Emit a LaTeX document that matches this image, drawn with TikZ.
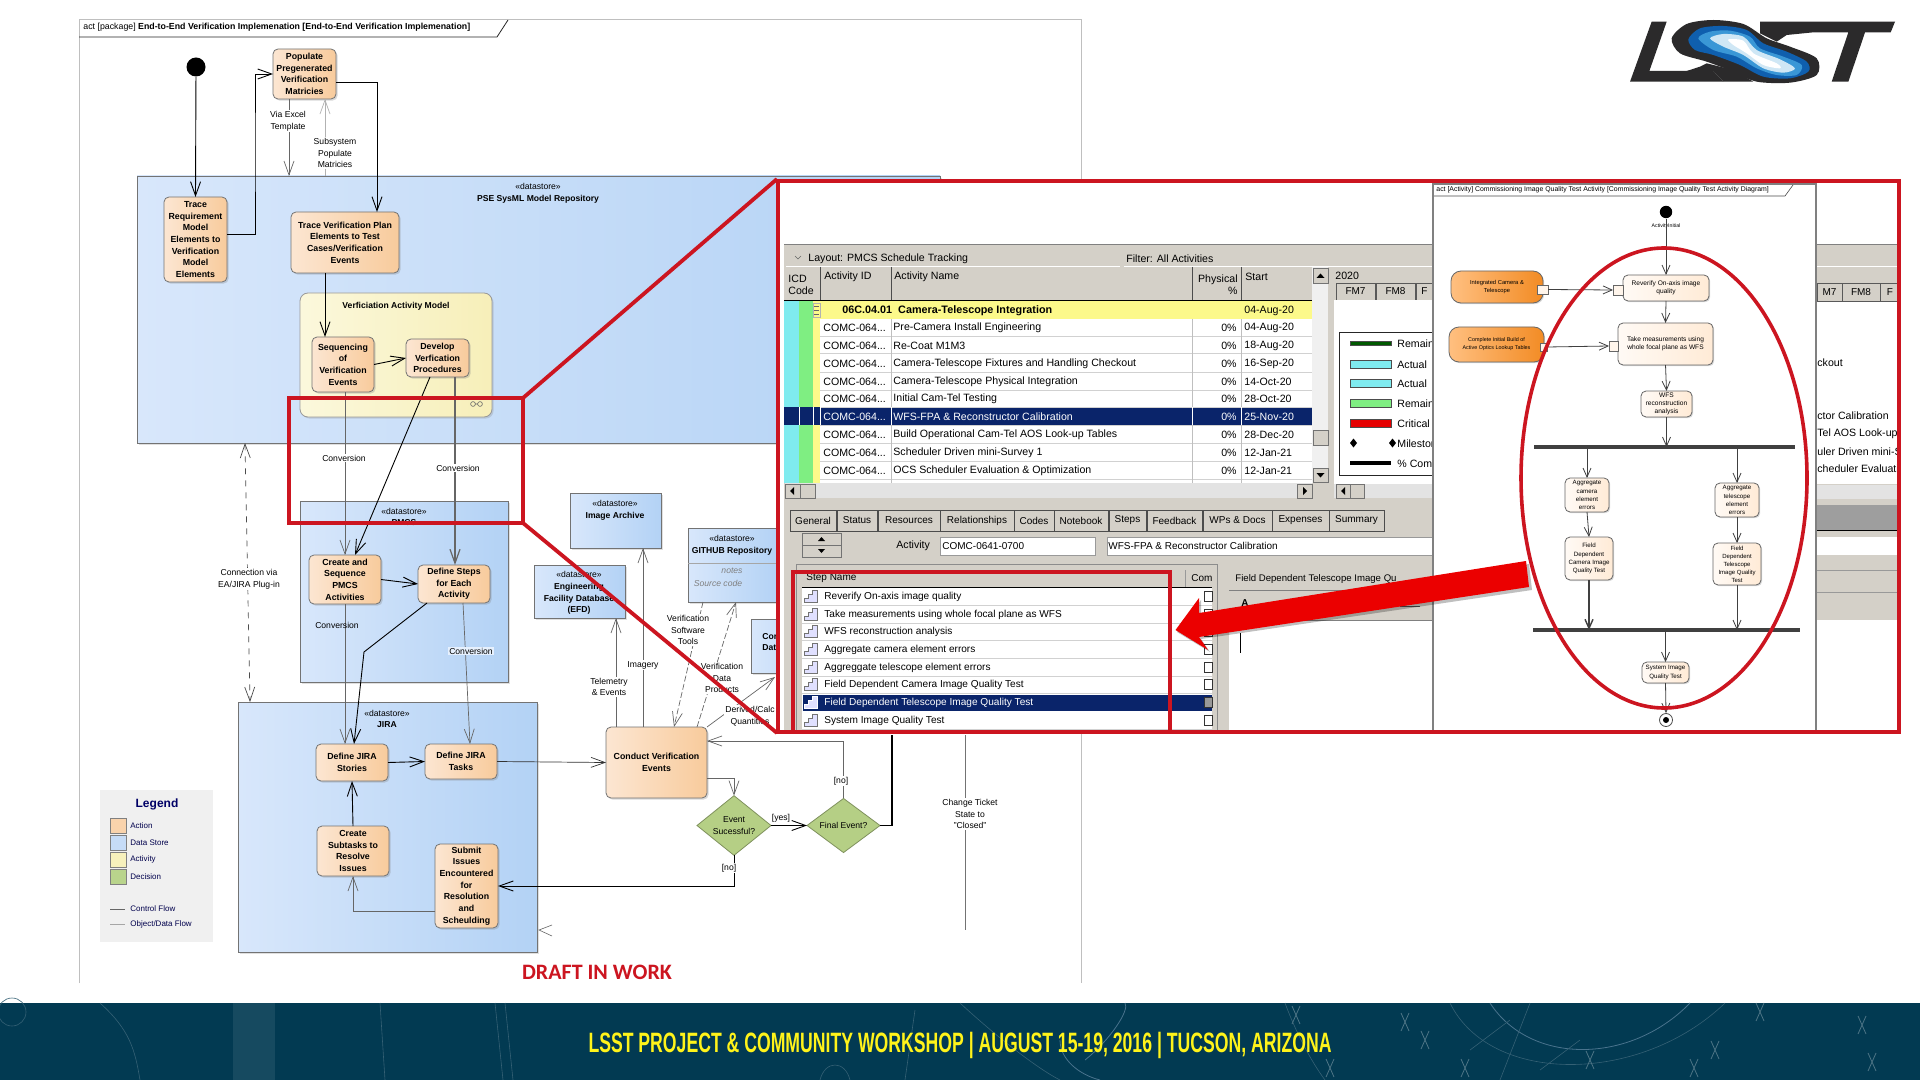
\documentclass[tikz,border=0pt]{standalone}
\usepackage{fontspec}
\usepackage{graphicx}
\setmainfont{Liberation Sans}
\newfontfamily\carl{Carlito}
\usetikzlibrary{arrows.meta,calc,shadows,shapes.geometric}
\definecolor{redl}{HTML}{CC1520}
\definecolor{p6}{HTML}{D4D0C8}
\definecolor{navy}{HTML}{0A246A}
\definecolor{band}{HTML}{023A52}
\definecolor{cyanb}{HTML}{7FEBEF}
\definecolor{greenb}{HTML}{7FEE82}
\definecolor{yelb}{HTML}{FCF98A}
\definecolor{storeL}{HTML}{D8E7FB}
\definecolor{storeR}{HTML}{B3D2F5}
\definecolor{actL}{HTML}{FCE6D2}
\definecolor{actR}{HTML}{F8CB9C}
\definecolor{yelL}{HTML}{FBF8DC}
\definecolor{yelR}{HTML}{F7EFB9}
\definecolor{decC}{HTML}{B5CF85}
\definecolor{lblB}{HTML}{CBDFF8}
\definecolor{lblC}{HTML}{E6F0FD}
\definecolor{legA}{HTML}{F9D3AC}
\definecolor{legB}{HTML}{C6DCF7}
\definecolor{legC}{HTML}{F7F1BC}
\definecolor{legD}{HTML}{B9D48C}
\definecolor{logoA}{HTML}{0F5FAE}
\definecolor{logoB}{HTML}{3A97D6}
\definecolor{logoC}{HTML}{CFE7F5}
\definecolor{lg}{HTML}{2B2A2B}
\newcommand\fs[2]{\fontsize{#1pt}{#2pt}\selectfont}
\newcommand\bx[7][]{\node[#1,minimum width={(#5-#3)*0.5pt},minimum height={(#6-#4)*0.5pt}] (#2) at ({(#3+#5)/2},{(#4+#6)/2}) {#7};}
\newcommand\rr[5][]{\fill[#1] (#2,#3) rectangle (#4,#5);}
\newcommand\lbl[5][]{\node[lab,#1] (#2) at (#3,#4) {#5};}
\newcommand\txw[5][]{\node[anchor=west,inner sep=0pt,#1] (#2) at (#3,#4) {#5};}
\tikzset{
 >={Straight Barb[length=7pt,width=5pt]},
 basebox/.style={inner sep=0pt,outer sep=0pt,align=center},
 action/.style={basebox,draw=black!55,rounded corners=2.5pt,left color=actL,right color=actR,drop shadow={shadow xshift=.8pt,shadow yshift=-.8pt,opacity=.3},font=\fs{4.4}{5.85}\bfseries},
 store/.style={basebox,draw=black!55,left color=storeL,right color=storeR,drop shadow={shadow xshift=.8pt,shadow yshift=-.8pt,opacity=.25},font=\fs{4.3}{5.85}},
 activ/.style={basebox,draw=black!40,rounded corners=4pt,left color=yelL,right color=yelR,drop shadow={shadow xshift=.8pt,shadow yshift=-.8pt,opacity=.25}},
 decis/.style={diamond,inner sep=0pt,outer sep=0pt,draw=decC!70!black,fill=decC,align=center,font=\fs{4.3}{5.8}},
 lab/.style={inner sep=.6pt,align=center,font=\fs{4.3}{5.85},text=black},
 flow/.style={->,draw=black,line width=.45pt},
 data/.style={->,draw=black!60,line width=.35pt},
 dataline/.style={data,dashed,dash pattern=on 3pt off 1.2pt},
 mini/.style={basebox,draw=black!60,rounded corners=2.5pt,left color=orange!4!white,right color=orange!16!white,drop shadow={shadow xshift=.6pt,shadow yshift=-.6pt,opacity=.3},font=\fs{3.3}{4.1}},
 miniact/.style={basebox,draw=black!60,rounded corners=5pt,left color=orange!50!white,right color=orange!85!white!95!black,drop shadow={shadow xshift=.6pt,shadow yshift=-.6pt,opacity=.3},font=\fs{2.9}{4.1}},
 pin/.style={basebox,draw=black!60,fill=orange!8!white},
 minif/.style={->,>={Straight Barb[length=4.5pt,width=4pt]},draw=black!75,line width=.4pt},
 forkbar/.style={line width=1.6pt,draw=black!75},
 redframe/.style={draw=redl,line width=1.9pt},
 p6t/.style={font=\fs{5.3}{6},yshift=-.4pt},
 tabcell/.style={basebox,draw=black!70,fill=p6,font=\fs{5}{6}},
 bandline/.style={draw=white!20!band,line width=.3pt},
 bandlineb/.style={draw=cyan!30!band,line width=.4pt},
 bandstar/.style={draw=white!30!band,line width=.4pt},
}
\begin{document}
\begin{tikzpicture}[x=0.5pt,y=-0.5pt]
\useasboundingbox (0,0) rectangle (1920,1080);
\fill[white] (0,0) rectangle (1920,1080);
% ---------- footer band
\fill[band] (0,1003) rectangle (1920,1080);
\fill[white!8!band] (233,1003) rectangle (275,1080);
\draw[bandline] (12,1012) circle (14);
\draw[bandline] (100,1003) .. controls (130,1030) and (135,1050) .. (140,1080);
\draw[bandline] (380,1003) -- (385,1080);
\draw[bandline] (495,1003) -- (503,1080);
\draw[bandline] (505,1003) -- (513,1080);
\draw[bandline] (820,1080) .. controls (825,1060) and (845,1060) .. (850,1080);
\draw[bandline] (915,1010) -- (905,1080);
\draw[bandlineb] (1085,1060) .. controls (1110,1040) and (1130,1010) .. (1125,1003);
\draw[bandlineb] (1060,1040) .. controls (1060,1060) and (1080,1075) .. (1100,1080);
\draw[bandline] (960,1003) .. controls (1000,1040) and (1040,1070) .. (1060,1080);
\draw[bandline] (1285,1003) .. controls (1295,1030) and (1310,1060) .. (1325,1080);
\draw[bandline] (1450,1003) .. controls (1490,1085) and (1640,1085) .. (1725,1003);
\draw[bandlineb] (1490,1003) .. controls (1530,1065) and (1630,1065) .. (1690,1003);
\draw[bandline] (1530,1003) -- (1500,1080);
\draw[bandline] (1470,1050) -- (1510,1020);
\draw[bandline] (1540,1070) -- (1580,1040);
\foreach \px/\py in {1296/1015,1405/1022,1425/1040,1465/1068,1590/1060,1694/1068,1715/1050,1760/1012,1862/1025,1872/1062,1330/1068}{
 \draw[bandstar] (\px-4,\py-9) -- (\px+4,\py+9) (\px+4,\py-9) -- (\px-4,\py+9);
}
\node[text=yellow!90!white,inner sep=0pt,font=\fs{14}{16}\bfseries] (foot) at (960,1045) {\scalebox{.63}[1]{LSST PROJECT \& COMMUNITY WORKSHOP | AUGUST 15-19, 2016 | TUCSON, ARIZONA}};
% ---------- logo
\begin{scope}[shift={(1600,0)},x=0.16667pt,y=-0.16667pt]
 \fill[lg] (155,65) -- (200,65) -- (148,213) -- (340,213) -- (370,245) -- (90,245) -- cycle;
 \fill[lg] (480,65) -- (885,65) -- (872,97) -- (795,97) -- (745,245) -- (695,245) -- (745,97) -- (640,97) -- (560,105) -- (530,125) -- (480,100) -- cycle;
 \fill[lg] (260,213) -- (340,213) -- (370,245) -- (460,245) -- (400,210) -- (320,190) -- (300,200) -- cycle;
 \fill[lg] plot[smooth cycle] coordinates {(215,115) (260,72) (340,60) (430,72) (500,115) (570,140) (650,175) (650,225) (570,248) (470,245) (400,215) (320,185) (240,160)};
 \fill[logoA] plot[smooth cycle] coordinates {(265,118) (300,85) (370,78) (440,90) (490,130) (560,155) (620,185) (625,215) (570,235) (490,230) (420,195) (340,165) (285,150)};
 \fill[logoB] plot[smooth cycle] coordinates {(295,115) (330,95) (390,92) (450,110) (480,145) (550,170) (605,195) (590,225) (530,225) (470,205) (410,170) (340,150)};
 \fill[logoC] plot[smooth cycle] coordinates {(330,115) (370,102) (430,110) (470,150) (540,178) (585,205) (550,218) (490,205) (430,165) (370,140)};
 \fill[white] plot[smooth cycle] coordinates {(385,118) (430,122) (460,160) (530,190) (540,205) (490,195) (440,160) (400,135)};
\end{scope}
% ---------- left diagram frame
\draw[black!25,line width=.4pt] (79,983) -- (79,19) -- (1081,19) -- (1081,983);
\draw[black!85,line width=.4pt] (79,37) -- (497,37) -- (508,20);
\txw[font=\fs{4.4}{5}]{frameT}{83}{27}{act [package] \textbf{End-to-End Verification Implemenation [End-to-End Verification Implemenation]}}
% ---------- containers
\bx[store]{repo}{137}{176}{940}{443}{}
\bx[store]{pmcs}{300}{501}{508}{682}{}
\bx[store]{jira}{238}{702}{537}{952}{}
\bx[store]{ia}{570}{493}{661}{548}{}
\bx[store]{efd}{534}{565}{625}{618}{}
\bx[store]{gh}{688}{528}{778}{602}{}
\bx[store]{cor}{751}{619}{830}{673}{}
\draw[black!35,line width=.3pt] (688,563) -- (778,563);
\lbl{repoT}{538}{193}{«datastore»\\\textbf{PSE SysML Model Repository}}
\lbl{pmcsT}{404}{517}{«datastore»\\\textbf{PMCS}}
\lbl{jiraT}{387}{719}{«datastore»\\\textbf{JIRA}}
\lbl{iaT}{615}{510}{«datastore»\\\textbf{Image Archive}}
\lbl{efdT}{579}{593}{«datastore»\\\textbf{Engineering}\\\textbf{Facility Database}\\\textbf{(EFD)}}
\lbl{ghT}{732}{545}{«datastore»\\\textbf{GITHUB Repository}}
\lbl[text=black!50]{ghN}{732}{571}{\textit{notes}}
\lbl[text=black!50]{ghS}{718}{583}{\textit{Source code}}
\txw[font=\fs{4.3}{5.85}\bfseries,align=left]{corT}{762}{642}{Cor\\Dat}
\bx[activ]{vam}{300}{293}{492}{417}{}
\lbl[font=\fs{4.3}{5.85}\bfseries]{vamT}{396}{306}{Verficiation Activity Model}
\draw[black!60,line width=.3pt] (473,404) circle (2.4) (480,404) circle (2.4) (475.4,404) -- (477.6,404);
% ---------- action nodes
\node[circle,fill=black,inner sep=0pt,minimum size=9.5pt] (init) at (196,67) {};
\bx[action]{pop}{273}{49}{336}{99}{Populate\\Pregenerated\\Verification\\Matricies}
\bx[action]{tr}{164}{197}{227}{282}{Trace\\Requirement\\Model\\Elements to\\Verification\\Model\\Elements}
\bx[action]{tv}{291}{212}{399}{273}{Trace Verification Plan\\Elements to Test\\Cases/Verification\\Events}
\bx[action]{seq}{312}{337}{374}{392}{Sequencing\\of\\Verification\\Events}
\bx[action]{dev}{406}{339}{469}{377}{Develop\\Verfication\\Procedures}
\bx[action]{create}{309}{555}{381}{604}{Create and\\Sequence\\PMCS\\Activities}
\bx[action]{steps}{418}{565}{490}{603}{Define Steps\\for Each\\Activity}
\bx[action]{st}{316}{744}{388}{781}{Define JIRA\\Stories}
\bx[action]{ta}{425}{744}{497}{779}{Define JIRA\\Tasks}
\bx[action]{sub}{317}{826}{389}{876}{Create\\Subtasks to\\Resolve\\Issues}
\bx[action]{sb}{435}{844}{498}{928}{Submit\\Issues\\Encountered\\for\\Resolution\\and\\Scheulding}
\bx[action]{con}{606}{727}{707}{798}{Conduct Verification\\Events}
\bx[decis]{ev}{697}{800}{771}{851}{Event\\Sucessful?}
\bx[decis]{fin}{807}{800}{880}{851}{Final Event?}
% ---------- legend
\bx[fill=black!6,basebox]{leg}{100}{790}{213}{942}{}
\lbl[font=\fs{6}{7}\bfseries,text=blue!40!black]{legT}{157}{804}{Legend}
\foreach \yy/\cc/\tt [count=\n] in {818/legA/Action,835/legB/Data Store,852/legC/Activity,869/legD/Decision}{
 \node[draw=black!50,fill=\cc,minimum width=8pt,minimum height=7.5pt,inner sep=0pt,anchor=north west] (sw\n) at (110,\yy) {};
 \node[anchor=west,inner sep=0pt,font=\fs{4}{5},text=blue!30!black] (swt\n) at (130,\yy+7.5) {\tt};
}
\coordinate (cfA) at (110,909); \coordinate (cfB) at (125,909);
\coordinate (dfA) at (110,924); \coordinate (dfB) at (125,924);
\draw[black!60,line width=.3pt] (cfA) -- (cfB);
\draw[black!35,line width=.3pt] (dfA) -- (dfB);
\txw[font=\fs{4}{5},text=blue!30!black]{cfT}{130}{909}{Control Flow}
\txw[font=\fs{4}{5},text=blue!30!black]{dfT}{130}{924}{Object/Data Flow}
% ---------- connectors
\coordinate (v1) at (255,150);
\draw[flow] (init) -- (tr.north);
\draw[flow] ($(tr.east)+(0,-5.5)$) -| (v1) |- (pop.west);
\draw[flow] ($(pop.east)+(0,8)$) -| ($(tv.north)+(32,0)$);
\coordinate (viaX) at ($(pop.south)+(-15.5,0)$);
\draw[data] (viaX) -- (viaX |- repo.north);
\coordinate (subX) at ($(pop.south)+(20.5,0)$);
\draw[data,draw=black!30] (subX |- repo.north) -- (subX);
\coordinate (tvS) at ($(tv.south)+(-20,0)$);
\draw[flow] (tvS) -- (tvS |- seq.north);
\draw[flow] (seq.east) -- (dev.west);
\draw[flow] ($(dev.south)+(-7.5,0)$) -- ($(create.north)+(10,0)$);
\draw[data] ($(seq.south)+(2,0)$) -- (create.north);
\coordinate (devR) at ($(dev.south)+(17.5,0)$);
\draw[data,line width=.6pt] (devR) -- (devR |- steps.north);
\draw[flow] (create.east) -- (steps.west);
\draw[data] (create.south) -- (create.south |- st.north);
\coordinate (bend) at (364,652);
\draw[flow] ($(steps.south)+(-27,0)$) -- (bend) -- ($(st.north)+(2,0)$);
\draw[data] ($(steps.south)+(9,0)$) -- ($(ta.north)+(9,0)$);
\draw[flow] (st.east) -- (ta.west);
\draw[data,draw=black!80] (ta.east) -- (con.west);
\draw[flow] (sub.north) -- (st.south);
\draw[data] ($(sb.west)+(0,25)$) -| (sub.south);
\draw[data] ($(con.east)+(0,15.5)$) -| (ev.north);
\draw[flow] (ev.east) -- (fin.west);
\draw[data] (fin.north) |- ($(con.east)+(0,-21.5)$);
\draw[flow] (ev.south) |- (sb.east);
\coordinate (finEnd) at (892,735);
\draw[draw=black,line width=.6pt] (fin.east) -| (finEnd);
\coordinate (telX) at ($(con.north)+(-40.5,0)$);
\draw[data] (telX) -- (telX |- efd.south);
\coordinate (imgX) at ($(con.north)+(-13.5,0)$);
\draw[data] (imgX) -- (imgX |- ia.south);
\draw[dataline] ($(gh.south)+(-30,0)$) -- ($(con.north)+(17.5,0)$);
\draw[dataline] ($(con.north)+(40.5,0)$) -- ($(gh.south)+(3,0)$);
\draw[data] (con.north east) -- ($(cor.south west)+(24,4)$);
\draw[data,dashed,<->,draw=black!70] ($(repo.south)+(-293.5,0)$) -- ($(jira.north)+(-137.5,0)$);
\draw[black!60,line width=.3pt] (552,925) -- (539,930) -- (552,936);
\coordinate (chA) at (965,735); \coordinate (chB) at (965,930);
\draw[black!55,line width=.35pt] (chA) -- (chB);
% ---------- edge labels
\lbl[fill=white]{lVia}{288}{121}{Via Excel\\Template}
\lbl[fill=white]{lSub}{335}{153}{Subsystem\\Populate\\Matricies}
\lbl[fill=white]{lC1}{344}{458}{Conversion}
\lbl[fill=white]{lC2}{458}{468}{Conversion}
\lbl{lC3}{337}{625}{Conversion}
\lbl[fill=lblC]{lC4}{471}{651}{Conversion}
\lbl[fill=white]{lConn}{249}{579}{Connection via\\EA/JIRA Plug-in}
\lbl[fill=white]{lTel}{609}{687}{Telemetry\\\& Events}
\lbl[fill=white]{lImg}{643}{665}{Imagery}
\lbl[fill=white]{lVst}{688}{630}{Verification\\Software\\Tools}
\lbl[fill=white]{lVdp}{722}{678}{Verification\\Data\\Products}
\lbl[fill=white]{lDer}{750}{716}{Derived/Calc\\Quantities}
\lbl[fill=white]{lNo}{841}{781}{[no]}
\lbl[fill=white]{lYes}{781}{818}{[yes]}
\lbl[fill=white]{lNo2}{729}{868}{[no]}
\lbl[fill=white]{lCh}{970}{814}{Change Ticket\\State to\\"Closed"}
\node[text=redl,inner sep=0pt,font=\carl\fs{11}{13}\bfseries] (draft) at (597,972) {DRAFT IN WORK};
% ---------- red zoom lines
\coordinate (z1) at (289,398); \coordinate (z2) at (523,523);
\coordinate (z3) at (777,179); \coordinate (z4) at (777,733);
\coordinate (z5) at (523,398); \coordinate (z6) at (289,523);
\draw[redframe] (z1) -- (z5) -- (z2) -- (z6) -- cycle;
\draw[redframe] (z5) -- (z3);
\draw[redframe] (z2) -- (z4);
% ---------- inset
\fill[white] (778,180) rectangle (1899,732);
% P6 window
\rr[p6]{784}{245}{1897}{500}
\rr[white]{1433}{300}{1897}{484}
\draw[black!50,line width=.5pt] (784,245) -- (1897,245);
\draw[white,line width=.4pt] (786,266) -- (1120,266) (1124,266) -- (1897,266);
\txw[p6t]{layout}{808}{258}{Layout: PMCS Schedule Tracking}
\txw[p6t]{filter}{1126}{258}{Filter: All Activities}
\draw[black!60,line width=.3pt] (795,256) -- (798,259) -- (801,256);
% header
\draw[black!70,line width=.35pt] (820,267) -- (820,300) (891,267) -- (891,300) (1192,267) -- (1192,300) (1241,267) -- (1241,300);
\draw[black,line width=.5pt] (784,300.5) -- (1312,300.5);
\txw[p6t,align=left]{hIcd}{788}{284}{ICD\\Code}
\txw[p6t]{hId}{824}{276}{Activity ID}
\txw[p6t]{hName}{894}{276}{Activity Name}
\node[p6t,anchor=east,inner sep=0pt,align=right] (hPh) at (1238,284) {Physical\\\%};
\txw[p6t]{hStart}{1245}{276}{Start}
% table body
\rr[white]{820}{319}{1312}{483}
\rr[yelb]{813}{301}{1312}{319}
\rr[cyanb]{784}{301}{799}{483}
\rr[greenb]{799}{301}{813}{483}
\rr[yelb]{813}{319}{820}{483}
\rr[navy]{784}{407}{1312}{425}
\foreach \yy in {337,354,372,390,407,425,443,461,479}{\draw[black!18,line width=.5pt] (820,\yy) -- (1312,\yy);}
\draw[black!25,line width=.3pt] (891,319) -- (891,483) (1192,319) -- (1192,483) (1241,319) -- (1241,483);
\draw[black!30,line width=.3pt] (813,303) rectangle (820,317);
\draw[black!60,line width=.3pt] (814,310) -- (819,310) (814,306) -- (819,306) (814,314) -- (819,314);
\txw[font=\fs{5.4}{6}\bfseries,yshift=-.4pt]{gT}{842}{310}{06C.04.01\hspace{3pt}Camera-Telescope Integration}
\txw[p6t]{gD}{1244}{310}{04-Aug-20}
\foreach \yy/\nm/\dd [count=\n] in {
 327/Pre-Camera Install Engineering/04-Aug-20,
 345/Re-Coat M1M3/18-Aug-20,
 363/Camera-Telescope Fixtures and Handling Checkout/16-Sep-20,
 381/Camera-Telescope Physical Integration/14-Oct-20,
 398/Initial Cam-Tel Testing/28-Oct-20,
 434/Build Operational Cam-Tel AOS Look-up Tables/28-Dec-20,
 452/Scheduler Driven mini-Survey 1/12-Jan-21,
 470/OCS Scheduler Evaluation \& Optimization/12-Jan-21}{
 \node[p6t,anchor=west,inner sep=0pt] (rid\n) at (823,\yy) {COMC-064...};
 \node[p6t,anchor=west,inner sep=0pt] (rnm\n) at (893,\yy) {\nm};
 \node[p6t,anchor=east,inner sep=0pt] (rpc\n) at (1237,\yy) {0\%};
 \node[p6t,anchor=west,inner sep=0pt] (rdt\n) at (1244,\yy) {\dd};
}
\begin{scope}[every node/.append style={text=white}]
 \txw[p6t]{sid}{823}{416}{COMC-064...}
 \txw[p6t]{snm}{893}{416}{WFS-FPA \& Reconstructor Calibration}
 \node[p6t,anchor=east,inner sep=0pt] (spc) at (1237,416) {0\%};
 \txw[p6t]{sdt}{1244}{416}{25-Nov-20}
\end{scope}
\draw[white,line width=.5pt] (799,407) -- (799,425) (813,407) -- (813,425) (820,407) -- (820,425) (891,407) -- (891,425) (1192,407) -- (1192,425) (1241,407) -- (1241,425);
% scrollbars
\rr[black!6]{1312}{267}{1328}{483}
\draw[black!55,fill=p6,line width=.3pt] (1313,268) rectangle (1328,283) (1313,430) rectangle (1328,445) (1313,468) rectangle (1328,482);
\fill[black] (1316.5,278) -- (1324.5,278) -- (1320.5,273.5) -- cycle;
\fill[black] (1316.5,473) -- (1324.5,473) -- (1320.5,477.5) -- cycle;
\rr[black!11]{785}{483}{1312}{498}
\draw[black!55,fill=p6,line width=.3pt] (785,484) rectangle (800,498) (800,484) rectangle (815,498) (1297,484) rectangle (1312,498);
\fill[black] (794,487) -- (794,495) -- (790,491) -- cycle;
\fill[black] (1303,487) -- (1303,495) -- (1307,491) -- cycle;
% gantt header
\rr[p6]{1330}{267}{1433}{300}
\txw[p6t]{gYear2}{1335}{275}{2020}
\foreach \a/\b/\tt [count=\n] in {1336/1375/FM7,1376/1415/FM8,1416/1433/F}{
 \node[basebox,draw=black!65,fill=p6,font=\fs{5}{6},minimum height=8.5pt,minimum width={(\b-\a)*0.5pt}] (gm\n) at ({(\a+\b)/2},291.5) {\tt};
}
\rr[white]{1330}{300}{1433}{484}
\draw[black!85,line width=.4pt] (1339,332) rectangle (1440,475);
\draw[fill=green!35!black,draw=black!70,line width=.25pt] (1350,341) rectangle (1391,345);
\draw[fill=cyanb,draw=black!70,line width=.25pt] (1350,360) rectangle (1391,368);
\draw[fill=cyanb,draw=black!70,line width=.25pt] (1350,379) rectangle (1391,387);
\draw[fill=greenb,draw=black!70,line width=.25pt] (1350,399) rectangle (1391,407);
\draw[fill=red!90!black,draw=black!70,line width=.25pt] (1350,419) rectangle (1391,427);
\fill[black] (1350,443) -- (1353.5,438.5) -- (1357,443) -- (1353.5,447.5) -- cycle (1389,443) -- (1392.5,438.5) -- (1396,443) -- (1392.5,447.5) -- cycle;
\rr[black]{1350}{461}{1391}{465}
\foreach \yy/\tt [count=\n] in {343/Remain,364/Actual,383/Actual,403/Remain,423/Critical,443/Milestor,463/\% Com}{
 \node[p6t,anchor=west,inner sep=0pt] (gl\n) at (1397,\yy) {\tt};
}
\rr[black!11]{1330}{484}{1433}{498}
\rr[p6]{1330}{298}{1334}{500}
\draw[black!55,fill=p6,line width=.3pt] (1336,484) rectangle (1350,498) (1350,484) rectangle (1364,498);
\fill[black] (1345,487) -- (1345,495) -- (1341,491) -- cycle;
\draw[black!50,line width=.4pt] (784,500) -- (1897,500);
% lower part
\rr[p6]{784}{500}{1897}{732}
\rr[black!38]{1433}{505}{1897}{531}
\draw[black,line width=.4pt] (1433,530.5) -- (1897,530.5);
\foreach \a/\b/\tt [count=\n] in {790/836/General,837/877/Status,878/940/Resources,940/1014/Relationships,1014/1054/Codes,1054/1108/Notebook,1109/1146/Steps,1147/1202/Feedback,1203/1272/WPs \& Docs,1272/1329/Expenses,1329/1384/Summary}{
 \node[tabcell,minimum height=10.5pt,minimum width={(\b-\a)*0.5pt}] (tab\n) at ({(\a+\b)/2},520.5) {\tt};
}
\draw[black!55,fill=p6,line width=.3pt] (802,533) rectangle (841,545) (802,545) rectangle (841,557);
\fill[black] (818,541) -- (825,541) -- (821.5,537) -- cycle (818,549) -- (825,549) -- (821.5,553) -- cycle;
\txw[p6t]{acL}{896}{545}{Activity}
\draw[fill=white,draw=black!40,line width=.3pt] (940,537) rectangle (1095,555) (1107,537) rectangle (1440,555);
\txw[font=\fs{5}{6}]{acId}{942}{546}{COMC-0641-0700}
\txw[font=\fs{5}{6}]{acNm}{1108}{546}{WFS-FPA \& Reconstructor Calibration}
% steps list
\draw[black!45,line width=.3pt] (796,564) rectangle (1217,732);
\rr[white]{802}{587}{1212}{730}
\draw[black,line width=.4pt] (802,587) -- (1212,587);
\draw[black!40,line width=.3pt] (1185,570) -- (1185,587);
\txw[font=\fs{5}{6}]{snH}{806}{578}{Step Name}
\txw[font=\fs{5}{6}]{snC}{1191}{578}{Com}
\rr[navy]{803}{695}{1212}{711}
\foreach \yy/\tt [count=\n] in {596/Reverify On-axis image quality,614/Take measurements using whole focal plane as WFS,631/WFS reconstruction analysis,649/Aggregate camera element errors,667/Aggreggate telescope element errors,684/Field Dependent Camera Image Quality Test,720/System Image Quality Test}{
 \draw[black!18,line width=.4pt] (802,\yy+9) -- (1212,\yy+9);
 \draw[black!55,fill=white!88!blue,line width=.3pt] (804,\yy+6) -- (817,\yy+6) -- (817,\yy-6) -- (812,\yy-6) -- (812,\yy-2) -- (808,\yy-2) -- (808,\yy+2) -- (804,\yy+2) -- cycle;
 \node[font=\fs{5.05}{6},anchor=west,inner sep=0pt,yshift=-.4pt] (sr\n) at (824,\yy) {\tt};
 \draw[black!80,fill=white,line width=.5pt] (1204.5,\yy-5) rectangle (1212,\yy+5);
}
\draw[white,fill=white!88!blue,line width=.3pt] (804,708) -- (817,708) -- (817,696) -- (812,696) -- (812,700) -- (808,700) -- (808,704) -- (804,704) -- cycle;
\txw[font=\fs{5.05}{6},text=white,yshift=-.4pt]{srS}{824}{702}{Field Dependent Telescope Image Quality Test}
\draw[black!80,fill=black!40,line width=.5pt] (1204.5,697) rectangle (1212,707);
% right text panel
\rr[white]{1229}{570}{1433}{730}
\rr[p6]{1229}{570}{1433}{620}
\draw[black!50,line width=.3pt] (1229,590) -- (1433,590) (1229,620) -- (1433,620);
\txw[font=\fs{4.8}{6}]{fdT}{1235}{579}{Field Dependent Telescope Image Qu}
\draw[black,line width=.5pt] (1240,633) -- (1240,653);
\node[font=\fs{5}{6}\bfseries,inner sep=0pt] (tbA) at (1245,603) {A};
\draw[black!70,line width=.5pt] (1277,603) -- (1290,603) (1310,604) -- (1325,604) (1345,605) -- (1358,605) (1400,606) -- (1420,606);
% right of activity panel
\begin{scope}
\clip (1816,182) rectangle (1897,732);
\rr[white]{1816}{300}{1897}{484}
\rr[white]{1816}{537}{1897}{555}
\rr[white]{1816}{620}{1897}{730}
\rr[black!11]{1816}{485}{1897}{499}
\draw[black!40,line width=.3pt] (1816,570) -- (1897,570) (1816,592) -- (1897,592);
\foreach \a/\b/\tt [count=\n] in {1817/1842/M7,1842/1880/FM8,1880/1900/F}{
 \node[basebox,draw=black!65,fill=p6,font=\fs{5}{6},minimum height=9pt,minimum width={(\b-\a)*0.5pt}] (gr\n) at ({(\a+\b)/2},292) {\tt};
}
\txw[p6t]{rc1}{1817}{362}{ckout}
\txw[p6t]{rc2}{1817}{415}{ctor Calibration}
\txw[p6t]{rc3}{1817}{433}{Tel AOS Look-up}
\txw[p6t]{rc4}{1817}{451}{uler Driven mini-S}
\txw[p6t]{rc5}{1817}{468}{cheduler Evaluation}
\end{scope}
% activity panel
\draw[fill=white,draw=black!50,line width=1pt] (1433,184) rectangle (1816,732);
\draw[black!70,line width=.3pt] (1434,196) -- (1785,196) -- (1793,185);
\node[font=\fs{3.45}{4},anchor=west,inner sep=0pt] (adT) at (1436,190) {act [Activity] Commissioning Image Quality Test Activity [Commissioning Image Quality Test Activity Diagram]};
\node[circle,fill=black,inner sep=0pt,minimum size=6.2pt] (ainit) at (1666,212) {};
\node[font=\fs{2.6}{3},inner sep=.3pt,fill=white] (ainitL) at (1666,226) {ActivityInitial};
\bx[miniact]{ai1}{1451}{271}{1543}{303}{Integrated Camera \&\\Telescope}
\bx[miniact,font=\fs{2.7}{4.1}]{ai2}{1449}{327}{1544}{362}{Complete Initial Build of\\Active Optics Lookup Tables}
\bx[mini]{a1}{1623}{275}{1709}{301}{Reverify On-axis image\\quality}
\bx[mini]{a2}{1618}{323}{1713}{365}{Take measurements using\\whole focal plane as WFS}
\bx[mini]{a3}{1641}{391}{1692}{417}{WFS\\reconstruction\\analysis}
\bx[mini,font=\fs{3.1}{4.1}]{a4}{1565}{478}{1609}{512}{Aggregate\\camera\\element\\errors}
\bx[mini,font=\fs{3.1}{4.1}]{a5}{1715}{483}{1759}{517}{Aggregate\\telescope\\element\\errors}
\bx[mini,font=\fs{3.1}{4.1}]{a6}{1565}{537}{1613}{580}{Field\\Dependent\\Camera Image\\Quality Test}
\bx[mini,font=\fs{3.0}{4}]{a7}{1713}{543}{1761}{585}{Field\\Dependent\\Telescope\\Image Quality\\Test}
\bx[mini,font=\fs{3.1}{4.1}]{a8}{1642}{662}{1689}{683}{System Image\\Quality Test}
\bx[pin]{p1}{1537}{285}{1548}{294}{}
\bx[pin]{p2}{1540}{343}{1547}{351}{}
\bx[pin]{p3}{1613}{285}{1623}{295}{}
\bx[pin]{p4}{1609}{341}{1618}{351}{}
\coordinate (fk1) at (1534,447); \coordinate (fk1b) at (1795,447);
\coordinate (fk2) at (1533,630); \coordinate (fk2b) at (1800,630);
\draw[forkbar] (fk1) -- (fk1b);
\draw[forkbar] (fk2) -- (fk2b);
\node[circle,draw=black!70,fill=white,inner sep=0pt,minimum size=6.5pt,line width=.4pt] (afin) at (1666,720) {};
\fill[black] (afin.center) circle (3);
\draw[minif] (ainit) -- (ainit |- a1.north);
\draw[minif] (a1.south) -- (a2.north);
\draw[minif] (a2.south) -- (a3.north);
\draw[minif] (a3.south) -- (a3.south |- fk1);
\draw[minif] (a4.north |- fk1) -- (a4.north);
\draw[minif] (a5.north |- fk1) -- (a5.north);
\draw[minif] (a4.south) -- (a6.north);
\draw[minif] (a5.south) -- (a7.north);
\draw[minif,line width=.7pt] (a6.south) -- (a6.south |- fk2);
\draw[minif] (a7.south) -- (a7.south |- fk2);
\draw[minif] (a8.north |- fk2) -- (a8.north);
\draw[minif] (a8.south) -- (afin.north);
\draw[minif] (p1.east) -- (p3.west);
\draw[minif] (p2.east) -- (p4.west);
% big red arrow
\fill[black,opacity=.25] (1177,632) -- (1201,600) -- (1201,615) -- (1529,564) -- (1532,590) -- (1201,639) -- (1210,652) -- cycle;
\fill[red!92!black] (1175.5,630) -- (1199,598) -- (1199,613) -- (1526,561) -- (1529,587) -- (1199,637) -- (1208,650) -- cycle;
% ellipse and red frames
\node[ellipse,draw=redl,line width=1.8pt,inner sep=0pt,minimum width=143pt,minimum height=230pt] (ell) at (1664,478) {};
\coordinate (s1) at (793,572); \coordinate (s2) at (1170,732);
\draw[redframe] (s1) rectangle (s2);
\coordinate (f1) at (778,181); \coordinate (f2) at (1899,732);
\draw[redframe] (f1) rectangle (f2);
\end{tikzpicture}
\end{document}
